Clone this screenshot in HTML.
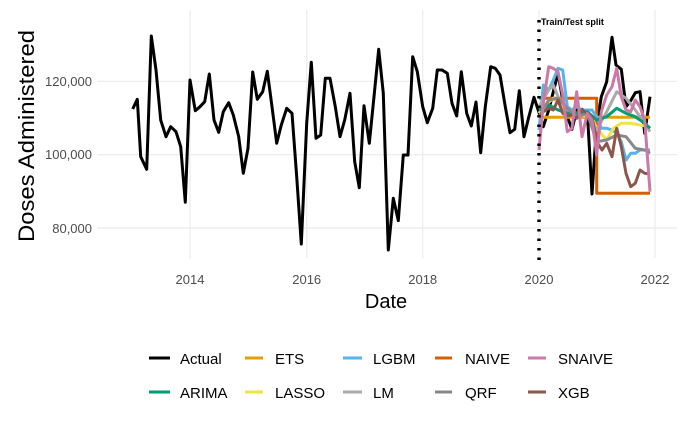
<!DOCTYPE html>
<html><head><meta charset="utf-8"><style>
body{margin:0;background:#fff;}
svg{display:block;font-family:"Liberation Sans",sans-serif;}
</style></head><body>
<svg id="s" width="687" height="425" xmlns="http://www.w3.org/2000/svg">
<g stroke="#ebebeb" stroke-width="1.2">
<line x1="97" x2="677" y1="81.3" y2="81.3"/><line x1="97" x2="677" y1="154.7" y2="154.7"/><line x1="97" x2="677" y1="228" y2="228"/>
<line x1="190" x2="190" y1="10" y2="258"/><line x1="306.7" x2="306.7" y1="10" y2="258"/><line x1="422.7" x2="422.7" y1="10" y2="258"/><line x1="539" x2="539" y1="10" y2="258"/><line x1="655" x2="655" y1="10" y2="258"/>
</g>
<g fill="#4d4d4d" font-size="13" text-anchor="end">
<text x="92" y="86">120,000</text><text x="92" y="159">100,000</text><text x="92" y="233">80,000</text>
</g>
<g fill="#4d4d4d" font-size="13" text-anchor="middle">
<text x="190" y="284">2014</text><text x="306.7" y="284">2016</text><text x="422.7" y="284">2018</text><text x="539" y="284">2020</text><text x="655" y="284">2022</text>
</g>
<text x="386" y="308" font-size="20" text-anchor="middle">Date</text>
<text transform="translate(34,136) rotate(-90)" font-size="22.5" text-anchor="middle" textLength="212" lengthAdjust="spacingAndGlyphs">Doses Administered</text>
<g id="lines" fill="none" stroke-width="3" stroke-linejoin="round"></g>
<line x1="539" x2="539" y1="20" y2="262" stroke="#000" stroke-width="3.5" stroke-dasharray="2.5,7"/>
<text x="541" y="25" font-size="9" font-weight="bold">Train/Test split</text>
<g font-size="15" fill="#000" stroke-width="3">
<line x1="149" x2="170" y1="358" y2="358" stroke="#000"/><text x="180" y="364">Actual</text>
<line x1="245" x2="263" y1="358" y2="358" stroke="#E69F00"/><text x="275" y="364">ETS</text>
<line x1="343" x2="362" y1="358" y2="358" stroke="#56B4E9"/><text x="373" y="364">LGBM</text>
<line x1="435" x2="452" y1="358" y2="358" stroke="#D55E00"/><text x="465" y="364">NAIVE</text>
<line x1="528" x2="546" y1="358" y2="358" stroke="#CC79A7"/><text x="558" y="364">SNAIVE</text>
<line x1="149" x2="170" y1="392" y2="392" stroke="#009E73"/><text x="180" y="398">ARIMA</text>
<line x1="245" x2="263" y1="392" y2="392" stroke="#F0E442"/><text x="275" y="398">LASSO</text>
<line x1="343" x2="362" y1="392" y2="392" stroke="#aaaaaa"/><text x="373" y="398">LM</text>
<line x1="435" x2="452" y1="392" y2="392" stroke="#888888"/><text x="465" y="398">QRF</text>
<line x1="528" x2="546" y1="392" y2="392" stroke="#8C564B"/><text x="558" y="398">XGB</text>
</g>
</svg>
<script>
function P(pts,ox){var s="";for(var i=0;i<pts.length;i+=2){s+=(i?"L":"M")+(ox+pts[i]/3).toFixed(1)+","+(10+pts[i+1]/3).toFixed(1);}return s;}
var a1=[128,297,142,268,152,440,170,478,184,78,198,180,212,330,228,380,242,350,258,365,272,410,286,577,300,210,316,302,330,290,344,275,358,192,372,330,386,367,400,305,416,278,430,315,446,380,460,490,474,415,488,186,502,268,518,245,532,184,546,290,560,400,574,345,590,295,606,310,620,500,634,702,650,340,664,157,678,385,692,375,706,205,720,205,736,290,750,380,764,330,780,250,794,455,808,533,822,287,838,400,852,260,866,118,880,250,895,720];
var a2=[25,720,40,565,55,632,70,435,84,435,98,140,112,185,128,290,142,338,158,295,172,180,186,180,202,190,216,280,230,318,244,185,260,310,274,348,288,276,302,428,316,290,332,170,346,175,360,195,376,290,390,368,404,358,418,242,432,380,446,322,462,262,476,305,490,350,506,300,520,245,534,190,548,270,562,320,576,358,590,300,606,298,622,305,636,552,650,345,664,260,680,215,696,82,708,165,724,178,738,290,752,272,766,248,780,245,794,370,810,260];
var F=[
["#D55E00",[477,265,650,265,650,550,810,550]],
["#E69F00",[477,322,810,322]],
["#56B4E9",[477,360,490,225,506,240,520,210,534,175,548,180,562,290,576,300,590,290,606,300,622,300,636,300,650,320,664,355,680,355,696,360,710,370,724,395,738,450,752,430,766,430,780,420,794,420,810,420]],
["#F0E442",[477,310,490,290,520,265,548,290,576,305,606,315,636,325,650,355,680,390,700,355,724,340,752,340,780,345,810,350]],
["#aaaaaa",[477,290,506,240,520,225,534,260,562,300,590,310,622,310,650,360,680,305,710,245,738,265,766,300,794,340,810,365]],
["#009E73",[477,300,506,285,534,300,562,310,590,310,622,305,650,330,680,320,710,295,738,310,766,320,794,340,810,355]],
["#888888",[477,320,506,270,534,265,562,295,590,320,622,310,650,395,680,390,710,375,738,380,766,415,794,420,810,430]],
["#8C564B",[477,322,490,305,506,295,520,300,534,270,548,310,562,318,576,315,590,325,606,300,622,310,636,320,650,395,666,420,680,400,696,440,710,355,724,410,738,490,752,530,766,520,780,480,794,490,810,492]],
["#CC79A7",[477,420,490,280,506,170,520,175,534,185,548,255,562,365,576,355,590,245,606,380,622,310,636,330,650,435,664,305,680,255,696,230,710,175,724,260,738,300,752,305,766,270,780,290,794,330,810,545]]
];
var g=document.getElementById("lines"),h="";
h+='<path stroke="#000" d="'+P(a1,90)+P(a2,380).replace(/^M/,"L")+'"/>';
F.forEach(function(f){h+='<path stroke="'+f[0]+'" d="'+P(f[1],380)+'"/>';});
g.innerHTML=h;
</script>
</body></html>
